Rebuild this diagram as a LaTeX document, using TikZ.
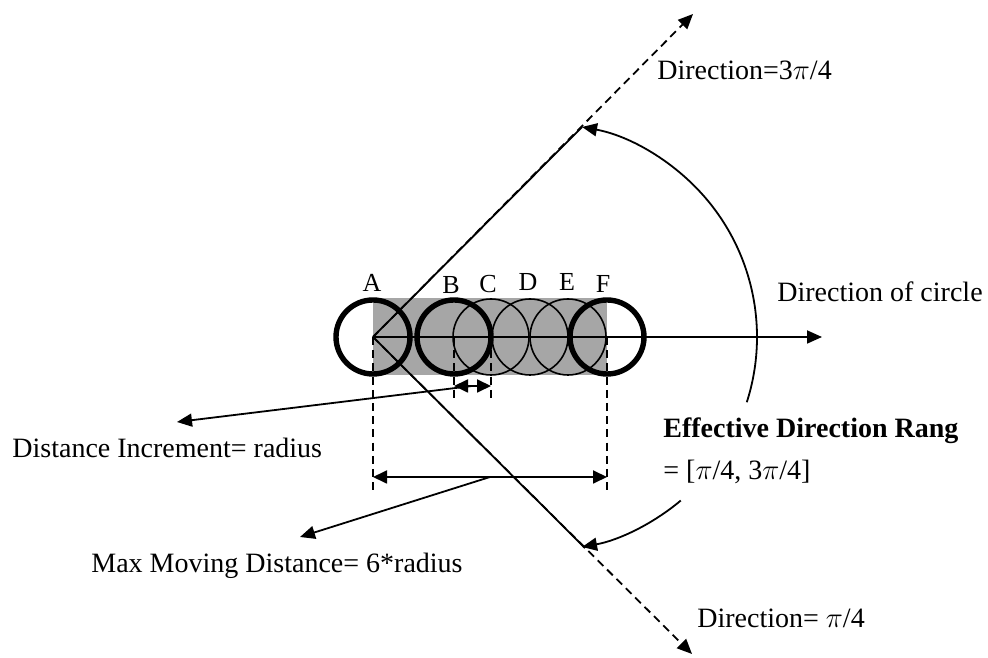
\documentclass[tikz,border=0pt]{standalone}
\usepackage{fontspec}
\setmainfont{Liberation Serif}
\usetikzlibrary{arrows.meta}
\begin{document}
\begin{tikzpicture}[x=0.5pt,y=0.5pt,
  lbl/.style={inner sep=0pt, anchor=base west, font=\fontsize{14}{17}\selectfont},
  letter/.style={inner sep=0pt, anchor=base, font=\fontsize{13}{15}\selectfont},
  thinline/.style={line width=0.9pt},
  boldring/.style={line width=2.7pt},
  thinring/.style={line width=0.8pt},
  dashline/.style={line width=0.9pt, dash pattern=on 4pt off 2.6pt},
  tipend/.style={-{Triangle[length=7.5pt,width=6.5pt]}},
  tipboth/.style={{Triangle[length=7pt,width=6.5pt]}-{Triangle[length=7pt,width=6.5pt]}}]
\useasboundingbox (0,0) rectangle (988,657);
% key points
\coordinate (A) at (373,320);
\coordinate (B) at (454,320);
\coordinate (C) at (491,320);
\coordinate (D) at (530,320);
\coordinate (E) at (568,320);
\coordinate (F) at (607,320);
% grey band
\fill[black!35] (373,282) rectangle (607,359);
% thin circles
\draw[thinring] (C) circle[radius=38];
\draw[thinring] (D) circle[radius=38];
\draw[thinring] (E) circle[radius=38];
% thick circles
\draw[boldring] (A) circle[radius=37];
\draw[boldring] (B) circle[radius=37];
\draw[boldring] (F) circle[radius=37];
% letters
\node[letter] (la) at (372,365) {A};
\node[letter] (lb) at (451,363) {B};
\node[letter] (lc) at (488,364) {C};
\node[letter] (ld) at (528,366) {D};
\node[letter] (le) at (567,366) {E};
\node[letter] (lf) at (603,364) {F};
% direction of circle arrow
\coordinate (dirend) at (822,320);
\draw[thinline, tipend] (A) -- (dirend);
% upper direction
\coordinate (upend) at (693,643);
\coordinate (uptip) at (582,530);
\draw[dashline, tipend] (A) -- (upend);
\draw[thinline] (A) -- (uptip);
% lower direction
\coordinate (loend) at (692,3);
\coordinate (lotip) at (585,109);
\draw[dashline, tipend] (A) -- (loend);
\draw[thinline] (A) -- (lotip);
% effective range arc
\draw[thinline, tipend] (543.5,320) ++(-17.8:213.5) arc[start angle=-17.8, end angle=79.6, radius=213.5];
\draw[thinline, tipend] (543.5,320) ++(-50:213.5) arc[start angle=-50, end angle=-79.6, radius=213.5];
% dashed verticals
\coordinate (va) at (373,164);
\coordinate (vb) at (454,259);
\coordinate (vc) at (491,259);
\coordinate (vf) at (607,164);
\draw[dashline] (A) -- (va);
\draw[dashline] (B) -- (vb);
\draw[dashline] (C) -- (vc);
\draw[dashline] (F) -- (vf);
% increment arrow
\coordinate (incl) at (454,271);
\coordinate (incr) at (491,271);
\coordinate (incmid) at (472,271);
\draw[thinline, tipboth] (incl) -- (incr);
\coordinate (inctip) at (177,235);
\draw[thinline, tipend] (incmid) -- (inctip);
% max distance arrow
\coordinate (maxl) at (373,180);
\coordinate (maxr) at (607,180);
\coordinate (maxmid) at (490,180);
\draw[thinline, tipboth] (maxl) -- (maxr);
\coordinate (maxtip) at (300,120);
\draw[thinline, tipend] (maxmid) -- (maxtip);
% texts
\node[lbl] (t3) at (657,577) {Direction=3$\pi$/4};
\node[lbl] (tc) at (777,355) {Direction of circle};
\node[lbl, font=\fontsize{14}{17}\selectfont\bfseries] (te) at (663,219) {Effective Direction Rang};
\node[lbl] (tr) at (663,177) {= [$\pi$/4, 3$\pi$/4]};
\node[lbl] (ti) at (12,199) {Distance Increment= radius};
\node[lbl, anchor=base east] (tm) at (463,84) {Max Moving Distance= 6*radius};
\node[lbl] (t1) at (697,30) {Direction= $\pi$/4};
\end{tikzpicture}
\end{document}
